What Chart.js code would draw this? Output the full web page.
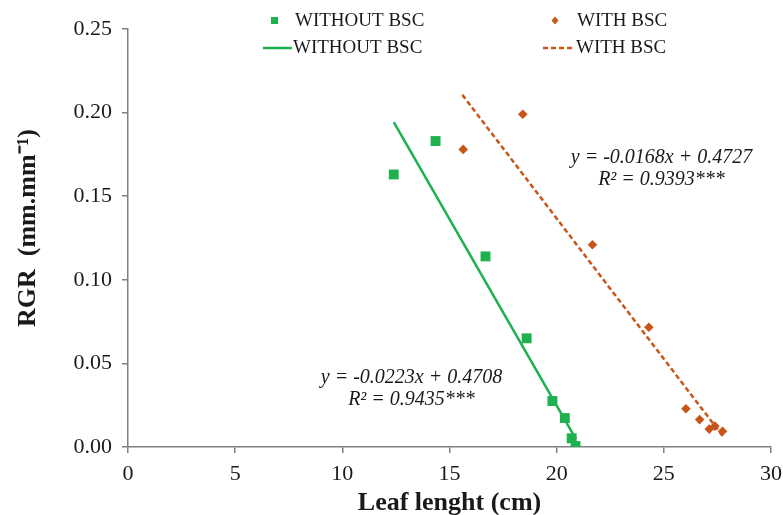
<!DOCTYPE html>
<html>
<head>
<meta charset="utf-8">
<script src="https://cdn.jsdelivr.net/npm/chart.js@4.4.1/dist/chart.umd.min.js"></script>
<style>
  html, body { margin: 0; padding: 0; background: #fff; }
  #wrap { width: 783px; height: 515px; }
</style>
</head>
<body>
<div id="wrap"><canvas id="c" width="783" height="515"></canvas></div>
<script>
// measured points (leaf length cm, RGR)
const withoutX = [12.4, 14.35, 16.68, 18.6, 19.8, 20.38, 20.7, 20.88];
const withoutY = [0.163, 0.183, 0.114, 0.065, 0.0275, 0.0173, 0.0052, 0.0006];
const withX = [15.64, 18.42, 21.67, 24.3, 26.03, 26.67, 27.12, 27.38, 27.74];
const withY = [0.178, 0.199, 0.121, 0.0716, 0.0229, 0.0164, 0.0107, 0.0125, 0.0094];

// trend line end points as drawn
const fitWithoutX = [12.4, 20.9];
const fitWithoutY = [0.1943, 0.0047];
const fitWithX = [15.6, 27.75];
const fitWithY = [0.2106, 0.0065];

const xTicks = [0, 5, 10, 15, 20, 25, 30];
const yTicks = [0, 0.05, 0.10, 0.15, 0.20, 0.25];

const eqWithout = ['y = -0.0223x + 0.4708', 'R² = 0.9435***'];
const eqWith = ['y = -0.0168x + 0.4727', 'R² = 0.9393***'];

const GREEN = '#1fb04f';
const ORANGE = '#c8561b';
const AXIS = '#808080';
const TXT = '#1a1a1a';
const SERIF = '"Liberation Serif", "Times New Roman", serif';

function pts(xs, ys) {
  return xs.map((x, i) => ({ x, y: ys[i] }));
}

// legend, equations and axis titles
const extras = {
  id: 'extras',
  afterDraw(chart) {
    const ctx = chart.ctx;
    const xs = chart.scales.x;
    ctx.save();

    // legend row 1
    ctx.fillStyle = GREEN;
    ctx.fillRect(271, 17, 7, 7);
    ctx.fillStyle = ORANGE;
    ctx.beginPath();
    ctx.moveTo(555, 16.5); ctx.lineTo(558.5, 20.5); ctx.lineTo(555, 24.5); ctx.lineTo(551.5, 20.5);
    ctx.closePath(); ctx.fill();
    // legend row 2
    ctx.strokeStyle = GREEN; ctx.lineWidth = 2.5;
    ctx.beginPath(); ctx.moveTo(263, 48); ctx.lineTo(292, 48); ctx.stroke();
    ctx.strokeStyle = ORANGE; ctx.setLineDash([5, 3]);
    ctx.beginPath(); ctx.moveTo(543, 48); ctx.lineTo(575, 48); ctx.stroke();
    ctx.setLineDash([]);

    ctx.fillStyle = TXT;
    ctx.font = '19px ' + SERIF;
    ctx.textAlign = 'left';
    ctx.textBaseline = 'middle';
    ctx.fillText('WITHOUT BSC', 295, 21.5);
    ctx.fillText('WITHOUT BSC', 293, 48.5);
    ctx.fillText('WITH BSC', 577, 21.5);
    ctx.fillText('WITH BSC', 576, 48.5);

    // regression equations
    ctx.font = 'italic 20px ' + SERIF;
    ctx.textAlign = 'center';
    ctx.fillText(eqWith[0], 661.5, 158);
    ctx.fillText(eqWith[1], 661.5, 180);
    ctx.fillText(eqWithout[0], 411.5, 378);
    ctx.fillText(eqWithout[1], 411.5, 400);

    // axis titles
    ctx.font = 'bold 26px ' + SERIF;
    ctx.fillText('Leaf lenght (cm)', (xs.left + xs.right) / 2, 503);
    ctx.translate(28, 228);
    ctx.rotate(-Math.PI / 2);
    ctx.fillText('RGR  (mm.mm⁻¹)', 0, 0);
    ctx.restore();
  }
};

new Chart(document.getElementById('c'), {
  type: 'scatter',
  data: {
    datasets: [
      {
        label: 'WITHOUT BSC',
        data: pts(withoutX, withoutY),
        pointStyle: 'rect',
        pointRadius: 7,
        backgroundColor: GREEN,
        borderColor: GREEN,
        borderWidth: 0,
        order: 1
      },
      {
        label: 'WITH BSC',
        data: pts(withX, withY),
        pointStyle: 'rectRot',
        pointRadius: 4.8,
        backgroundColor: ORANGE,
        borderColor: ORANGE,
        borderWidth: 0,
        order: 1
      },
      {
        label: 'WITHOUT BSC fit',
        data: pts(fitWithoutX, fitWithoutY),
        showLine: true,
        pointRadius: 0,
        borderColor: GREEN,
        borderWidth: 2.5,
        order: 2
      },
      {
        label: 'WITH BSC fit',
        data: pts(fitWithX, fitWithY),
        showLine: true,
        pointRadius: 0,
        borderColor: ORANGE,
        borderWidth: 2.5,
        borderDash: [5, 3],
        order: 2
      }
    ]
  },
  options: {
    responsive: false,
    animation: false,
    layout: { padding: { top: 29, right: 12, left: 0, bottom: 0 } },
    plugins: { legend: { display: false }, tooltip: { enabled: false } },
    scales: {
      x: {
        type: 'linear',
        min: 0, max: 30,
        afterBuildTicks: s => { s.ticks = xTicks.map(v => ({ value: v })); },
        afterFit: s => { s.height = 68; s.paddingLeft = 0; s.paddingRight = 0; },
        border: { color: AXIS, width: 1.5 },
        grid: { drawOnChartArea: false, drawTicks: true, tickLength: 6, color: AXIS, lineWidth: 1.5 },
        ticks: {
          color: TXT, padding: 8,
          font: { family: SERIF, size: 22 },
          callback: v => String(v)
        }
      },
      y: {
        type: 'linear',
        min: 0, max: 0.25,
        afterBuildTicks: s => { s.ticks = yTicks.map(v => ({ value: v })); },
        afterFit: s => { s.width = 128; s.paddingTop = 0; s.paddingBottom = 0; },
        border: { color: AXIS, width: 1.5 },
        grid: { drawOnChartArea: false, drawTicks: true, tickLength: 6, color: AXIS, lineWidth: 1.5 },
        ticks: {
          color: TXT, padding: 10,
          font: { family: SERIF, size: 22 },
          callback: v => Number(v).toFixed(2)
        }
      }
    }
  },
  plugins: [extras]
});
</script>
</body>
</html>
